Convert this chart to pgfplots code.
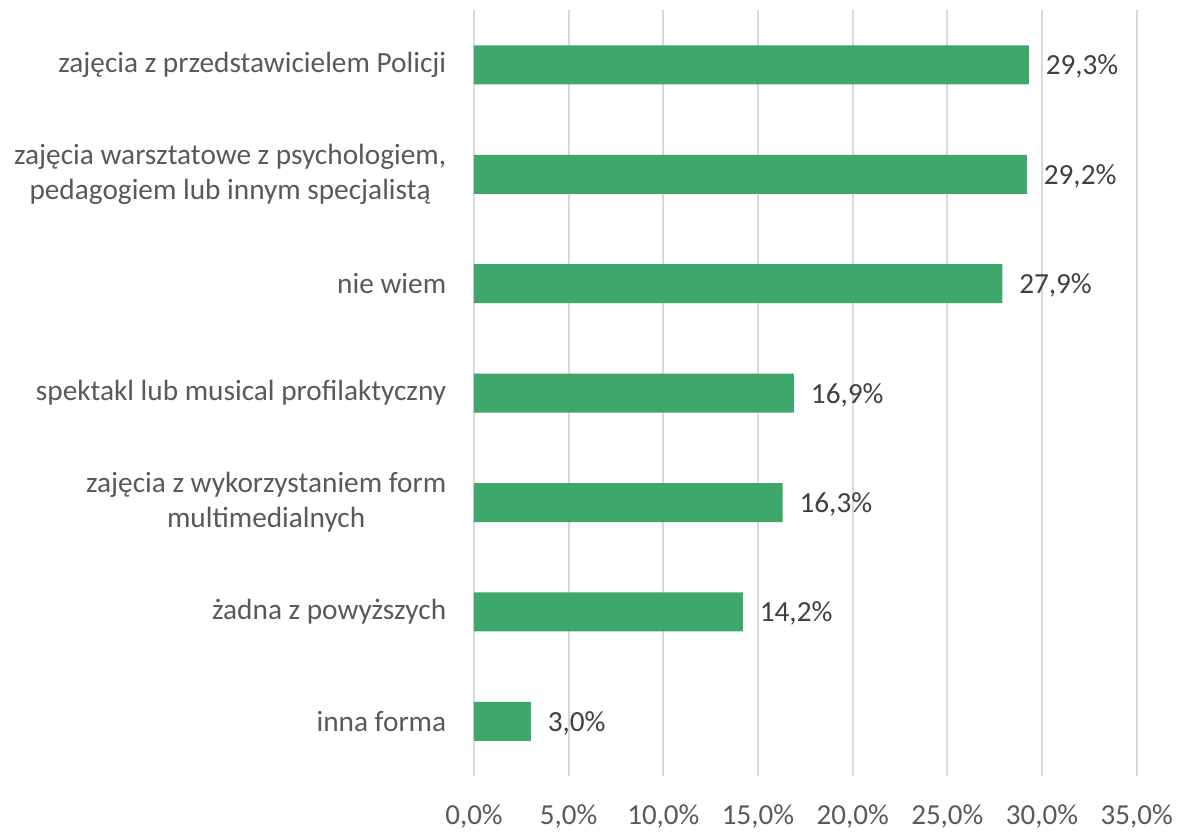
\documentclass[border=0pt]{standalone}
\usepackage{pgfplots}
\pgfplotsset{compat=1.18}
\usepackage{fontspec}
\setmainfont{Carlito}
\definecolor{bargreen}{RGB}{61,167,108}
\definecolor{gridgray}{RGB}{217,217,217}
\definecolor{labgray}{RGB}{89,89,89}
\definecolor{valgray}{RGB}{64,64,64}
\begin{document}
\begin{tikzpicture}
\begin{axis}[
  at={(0pt,0pt)}, anchor=south west,
  scale only axis,
  width=331.35pt, height=382.9pt,
  xbar, bar width=19.5pt,
  xmin=0, xmax=35, ymin=-0.5, ymax=6.5,
  y dir=reverse,
  xtick={0,5,...,35},
  ytick={0,...,6},
  yticklabels={
    zajęcia z przedstawicielem Policji,
    {zajęcia warsztatowe z psychologiem,\\pedagogiem lub innym specjalistą},
    nie wiem,
    spektakl lub musical profilaktyczny,
    {zajęcia z wykorzystaniem form\\multimedialnych},
    żadna z powyższych,
    inna forma},
  axis line style={draw=none},
  major tick length=0pt,
  xmajorgrids, ymajorgrids=false,
  grid style={color=gridgray, line width=1pt},
  /pgf/number format/assume math mode=true,
  xticklabel={\pgfmathprintnumber[fixed,fixed zerofill,precision=1,use comma]{\tick}\%},
  xticklabel style={font=\fontsize{14.5pt}{17.4pt}\selectfont, text=labgray, anchor=base, yshift=-24pt},
  yticklabel style={font=\fontsize{14.65pt}{17.4pt}\selectfont, text=labgray, align=center, inner sep=0pt, xshift=-13.7pt},
  nodes near coords={\pgfmathprintnumber[fixed,fixed zerofill,precision=1,use comma]{\pgfplotspointmeta}\%},
  nodes near coords style={font=\fontsize{14.6pt}{17.4pt}\selectfont, text=valgray, anchor=base west, inner sep=0pt, xshift=8.3pt, yshift=-5pt},
  point meta=explicit,
]
\addplot[fill=bargreen, draw=none] coordinates {
  (29.3,0) [29.3]
  (29.2,1) [29.2]
  (27.9,2) [27.9]
  (16.9,3) [16.9]
  (16.3,4) [16.3]
  (14.2,5) [14.2]
  (3.0,6) [3.0]
};
\end{axis}
\pgfresetboundingbox
\useasboundingbox (-237pt,-27.5pt) rectangle (353.5pt,388pt);
\end{tikzpicture}
\end{document}
